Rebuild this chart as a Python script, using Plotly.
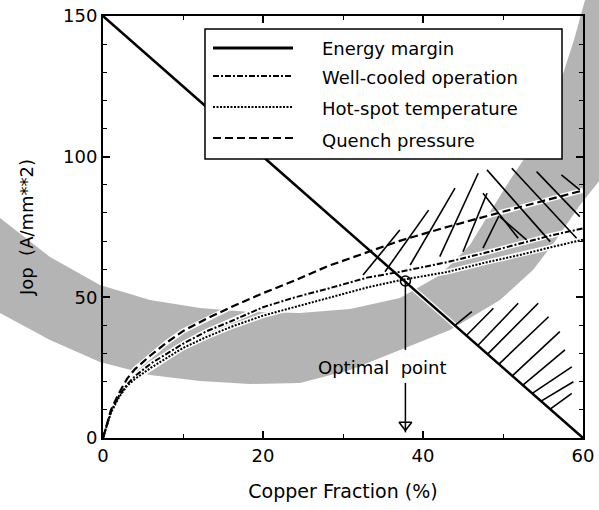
import plotly.graph_objects as go

# ---------------- data ----------------
copper_fraction = [0, 1, 2, 3, 4, 6, 8, 10, 13, 16, 20, 24, 28, 33, 37, 43, 48, 52, 56, 60]
quench_pressure = [0, 10, 16, 21, 24.5, 29.5, 34, 38, 42.5, 46.5, 51.5, 56, 61, 66, 70, 75, 79, 82, 85, 88]
well_cooled = [0, 9.5, 15, 19, 22, 26.5, 30, 33.5, 38, 41.5, 46.5, 50, 53, 57, 59, 62.5, 66, 69, 72, 74.5]
hot_spot = [0, 9, 14.5, 18.5, 21, 25, 28.5, 32, 36, 39.5, 43.5, 46.5, 49.5, 53.5, 56, 59, 62.5, 65, 67.8, 70.5]
energy_x = [0, 60]
energy_y = [150, 0]
optimal_x = 37.8
optimal_y = 55.8
optimal_label_y = 25.2
arrow_tail_y = 19.6
arrow_tip_y = 2.0
line_stop_y = 31.3

# hatch segments (x0, y0, x1, y1)
upper_hatch = [
    (32.5, 57.9, 37.1, 73.9), (35.25, 59.1, 40.7, 81.0), (38.4, 61.5, 44.0, 88.8),
    (42.1, 64.5, 46.9, 94.1), (45.0, 66.2, 48.0, 87.0), (47.5, 67.5, 49.5, 79.0),
    (48.0, 95.3, 55.9, 69.8), (51.1, 95.9, 59.2, 71.0), (54.2, 94.7, 59.6, 78.7),
    (57.3, 93.5, 59.6, 88.2), (47.5, 87.0, 51.9, 71.0), (49.6, 78.7, 52.95, 70.4),
]
lower_hatch = [
    (44.0, 40.0, 46.1, 44.9), (45.42, 36.44, 48.8, 46.1), (46.85, 32.87, 51.9, 47.9),
    (48.08, 29.8, 54.4, 47.9), (49.49, 26.27, 55.7, 43.1), (51.16, 22.1, 57.1, 37.8),
    (52.49, 18.78, 57.75, 31.3), (53.66, 15.85, 58.6, 25.3), (54.76, 13.1, 58.8, 20.0),
    (55.9, 10.24, 58.6, 15.9),
]

x_ticks = [0, 20, 40, 60]
x_tick_text = ["0", "20", "40", "60"]
y_ticks = [0, 50, 100, 150]
y_tick_text = ["0", "50", "100", "150"]
legend_names = ["Energy margin", "Well-cooled operation", "Hot-spot temperature", "Quench pressure"]

# ---------------- layout helpers ----------------
W, H = 599, 510
PL, PT, PW, PH = 103, 16, 480, 422  # plot area in pixels
FONT = "DejaVu Sans"


def paper(px, py):
    return (px - PL) / PW, (PT + PH - py) / PH


def seg_xy(segs):
    xs, ys = [], []
    for x0, y0, x1, y1 in segs:
        xs += [x0, x1, None]
        ys += [y0, y1, None]
    return xs, ys


fig = go.Figure()

styles = {
    "energy": dict(color="black", width=2.5, dash="solid"),
    "well": dict(color="black", width=2, dash="6px,2px,2px,2px"),
    "hot": dict(color="black", width=2, dash="2px,1.5px"),
    "quench": dict(color="black", width=2.2, dash="8px,4px"),
}

curves = [
    (energy_x, energy_y, "energy", legend_names[0]),
    (copper_fraction, well_cooled, "well", legend_names[1]),
    (copper_fraction, hot_spot, "hot", legend_names[2]),
    (copper_fraction, quench_pressure, "quench", legend_names[3]),
]

# white halos (scan look)
for xs, ys, key, name in curves:
    fig.add_trace(go.Scatter(x=xs, y=ys, mode="lines", line=dict(color="white", width=5),
                             hoverinfo="skip", showlegend=False))

for xs, ys, key, name in curves:
    fig.add_trace(go.Scatter(x=xs, y=ys, mode="lines", name=name, line=styles[key], showlegend=False))

hx, hy = seg_xy(upper_hatch)
fig.add_trace(go.Scatter(x=hx, y=hy, mode="lines", line=dict(color="black", width=1.6),
                         showlegend=False, hoverinfo="skip"))
hx, hy = seg_xy(lower_hatch)
fig.add_trace(go.Scatter(x=hx, y=hy, mode="lines", line=dict(color="black", width=1.6),
                         showlegend=False, hoverinfo="skip"))

# optimal point marker, vertical line and arrow
fig.add_trace(go.Scatter(x=[optimal_x, optimal_x, None, optimal_x, optimal_x],
                         y=[optimal_y, line_stop_y, None, arrow_tail_y, arrow_tip_y],
                         mode="lines", line=dict(color="black", width=1.5),
                         showlegend=False, hoverinfo="skip"))
fig.add_trace(go.Scatter(x=[optimal_x], y=[arrow_tip_y + 2.6], mode="markers",
                         marker=dict(symbol="triangle-down-open", size=11, color="black",
                                     line=dict(width=1.6, color="black")),
                         showlegend=False, hoverinfo="skip"))
fig.add_trace(go.Scatter(x=[optimal_x], y=[optimal_y], mode="markers",
                         marker=dict(symbol="circle-open", size=10, color="black",
                                     line=dict(width=1.6, color="black")),
                         showlegend=False, hoverinfo="skip"))

# ---------------- grey band (background artefact) ----------------
band_inner = [(-20, 205), (0, 218), (50, 257), (100, 285), (150, 300), (200, 308), (250, 312),
              (300, 313), (350, 309), (400, 298), (440, 275), (470, 245), (490, 212), (510, 180),
              (530, 150), (547, 115), (561, 80), (574, 40), (585, 0), (590, -20)]
band_outer = [(-20, 303), (0, 313), (50, 340), (100, 362), (150, 375), (200, 381), (250, 384),
              (300, 383), (350, 370), (400, 350), (450, 330), (500, 300), (533, 270), (556, 240),
              (580, 205), (600, 180), (625, 135), (650, -20)]
pts = band_outer + band_inner[::-1]
path = ""
for i, (px, py) in enumerate(pts):
    u, v = paper(px, py)
    path += ("M" if i == 0 else "L") + f"{u:.4f},{v:.4f} "
path += "Z"

shapes = [dict(type="path", xref="paper", yref="paper", path=path,
               fillcolor="#b4b4b4", line=dict(width=0), layer="below")]

# ---------------- legend (drawn as a box) ----------------
lx0, ly0 = paper(205, 159)
lx1, ly1 = paper(562, 29)
shapes.append(dict(type="rect", xref="paper", yref="paper", x0=lx0, y0=ly0, x1=lx1, y1=ly1,
                   fillcolor="white", line=dict(color="black", width=1.5), layer="above"))
row_py = [48, 76, 107, 138]
text_py = [49, 78, 108, 140]
keys = ["energy", "well", "hot", "quench"]
annotations = []
for k, rp, tp, name in zip(keys, row_py, text_py, legend_names):
    sx0, sy = paper(213, rp)
    sx1, _ = paper(293, rp)
    st = dict(styles[k])
    if k == "energy":
        st["width"] = 3
    shapes.append(dict(type="line", xref="paper", yref="paper", x0=sx0, x1=sx1, y0=sy, y1=sy,
                       line=st, layer="above"))
    tx, ty = paper(320, tp)
    annotations.append(dict(xref="paper", yref="paper", x=tx, y=ty, text=name, showarrow=False,
                            xanchor="left", yanchor="middle",
                            font=dict(family=FONT, size=18, color="black")))

annotations.append(dict(x=optimal_x - 2.9, y=optimal_label_y, xref="x", yref="y",
                        text="Optimal  point", showarrow=False, xanchor="center", yanchor="middle",
                        font=dict(family=FONT, size=18, color="black")))

axis_common = dict(showline=True, linecolor="black", linewidth=2, mirror="ticks",
                   ticks="inside", ticklen=7, tickwidth=1.5, tickcolor="black",
                   showgrid=False, zeroline=False, automargin=False,
                   ticklabeloverflow="allow",
                   tickfont=dict(family=FONT, size=18, color="black"))

fig.update_layout(
    width=W, height=H, autosize=False,
    margin=dict(l=PL, r=W - PL - PW, t=PT, b=H - PT - PH),
    paper_bgcolor="white", plot_bgcolor="rgba(0,0,0,0)",
    font=dict(family=FONT, size=18, color="black"),
    showlegend=False,
    shapes=shapes, annotations=annotations,
    xaxis=dict(range=[0, 60], tickvals=x_ticks, ticktext=x_tick_text,
               minor=dict(tickvals=[10, 30, 50], ticks="inside", ticklen=4, tickwidth=1, tickcolor="black"),
               title=dict(text="Copper Fraction (%)", font=dict(family=FONT, size=19), standoff=20),
               **axis_common),
    yaxis=dict(range=[0, 150], tickvals=y_ticks, ticktext=y_tick_text,
               minor=dict(tickvals=[10, 20, 30, 40, 60, 70, 80, 90, 110, 120, 130, 140],
                          ticks="inside", ticklen=4, tickwidth=1, tickcolor="black"),
               title=dict(text="Jop  (A/mm**2)", font=dict(family=FONT, size=18), standoff=25),
               **axis_common),
)

# remove the browser's default 8px body margin so the figure fills the window
fig.write_html("out.html", config={"displayModeBar": False},
               post_script="document.body.style.margin='0px';")
